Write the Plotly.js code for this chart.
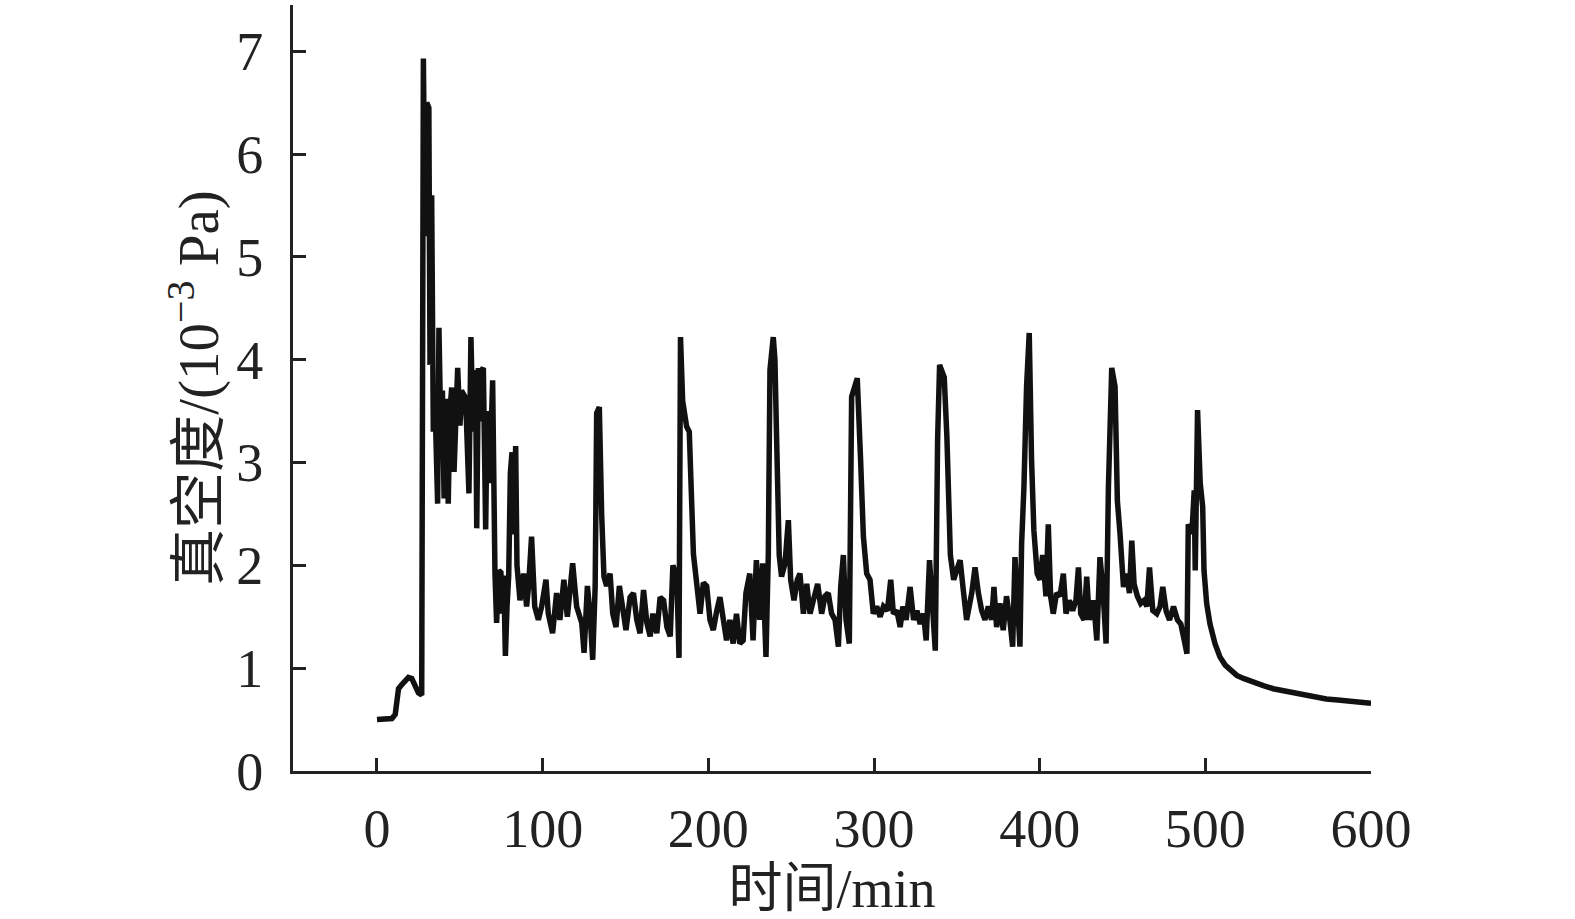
<!DOCTYPE html>
<html>
<head>
<meta charset="utf-8">
<script src="https://cdn.plot.ly/plotly-3.0.1.min.js"></script>
<style>html,body{margin:0;padding:0;background:#fff;}#chart{width:1575px;height:919px;}</style>
</head>
<body>
<div id="chart"></div>
<script>
const timeMin = [
0,3,6,9,11,12,13,15,17,19,21,23,25,27,27.5,28,
29,30,31.3,32,33,34,35,36.6,37.4,38.5,39.5,40.5,42,43,44,45.1,46.5,47.5,48.7,50.1,51,53.1,54,55.5,56.7,58,58.7,59.5,60.2,61.2,62.5,63.2,64.2,65.6,66.5,68,69.8,70.5,71.2,72.2,73.5,74.8,75.6,76.5,77.5,78.5,79.5,80.5,81.5,82.5,83.7,84.5,85.3,86.3,88.5,90.3,91.5,93.3,95.2,
97.4,99.4,102,103.4,106,108.4,110.4,112.8,114.9,118.1,120.5,123.6,125,127,128.6,130.2,131.7,132.6,134.2,135.6,137,138.6,140.7,142.3,144.3,146.3,148.3,150.3,152.8,154.8,156.8,158.8,160.9,162.9,164.9,166.5,168.9,170.9,173,175,177,178.6,181,182.3,183.2,184.5,186.9,188.5,191,193,195,197,199,201,203,205,207,
209,211,213,215,217,219,221,222.7,225,227,229,231,232.8,234.8,236.2,237.2,239.2,240.2,241.2,242.8,244.2,246.3,248.3,249.7,251.7,253.7,255.3,257.4,259.4,261.4,263.4,266,268.4,270.4,272.4,274.4,276.5,278.5,279.9,281.5,283.1,285.1,286.5,288.5,289.9,291.9,293.6,295.6,297.6,299.6,301.6,303.7,305.7,308.1,310.1,311.7,313.8,315.8,317.4,319.4,321.8,323.9,325.9,327.9,329.9,331.5,333.5,335.6,337,338.4,339.6,342.4,344,346.1,348.1,350.5,
352,353.9,355.9,359,361,363,365,367,369,371,372.4,374,376,378,380,382,383.7,385.1,386.5,388.1,389.1,390.5,392.1,393.7,395.1,396.5,398.5,400.2,401.8,403.8,405.2,406.6,408.2,410.2,412.3,414.3,415.9,417.9,419.9,421.9,423.4,424.8,426.8,428.4,430,432.5,434.5,436.4,438.1,440.1,441.5,442.5,443.5,445.5,446.9,448.5,450.6,452.6,454.2,455.6,457,459,461,463.1,464.7,466.3,468.3,470.7,472.7,474.3,476.4,478.4,480.8,483.2,485.2,487.3,488.9,489.7,490.5,491.9,493.3,493.9,495.3,496.9,498.4,499.2,500.8,502.8,505.8,508.8,
512,515,519,523,529,535,541,547,553,559,566,573,580,587,594,600
];
const vacuum = [
0.50,0.50,0.50,0.51,0.55,0.68,0.80,0.84,0.88,0.91,0.90,0.82,0.76,0.74,2.5,6.93,
5.2,6.5,6.45,3.95,5.6,3.3,3.6,2.6,4.31,3.3,3.7,2.65,3.62,2.6,3.5,3.73,2.91,3.6,3.92,3.36,3.7,3.64,3.4,2.7,4.22,3.3,3.53,3.9,2.36,3.92,3.4,3.9,3.92,2.35,3.5,2.8,3.8,2.5,1.93,1.44,1.95,1.93,1.53,1.9,1.12,1.6,1.9,2.9,3.1,2.3,3.16,2.0,1.8,1.66,1.92,1.6,1.8,2.28,1.6,
1.47,1.6,1.86,1.53,1.34,1.73,1.47,1.86,1.5,2.02,1.6,1.44,1.15,1.8,1.53,1.08,1.8,3.48,3.54,2.5,1.89,1.8,1.92,1.53,1.4,1.8,1.53,1.37,1.69,1.73,1.47,1.34,1.76,1.44,1.31,1.53,1.34,1.69,1.66,1.40,1.31,2.0,1.89,1.1,4.22,3.6,3.35,3.3,2.11,1.8,1.53,1.83,1.8,1.47,1.37,1.55,1.69,
1.48,1.27,1.47,1.24,1.53,1.24,1.27,1.73,1.92,1.27,2.05,1.47,2.02,1.11,2.1,3.9,4.22,4.0,3.25,2.1,1.89,2.02,2.44,1.86,1.66,1.86,1.92,1.53,1.82,1.53,1.66,1.82,1.53,1.70,1.73,1.53,1.47,1.21,1.79,2.1,1.47,1.24,3.64,3.74,3.82,3.03,2.28,1.92,1.86,1.53,1.6,1.5,1.6,1.56,1.86,1.53,1.56,1.4,1.6,1.47,1.79,1.47,1.56,1.43,1.53,1.27,2.05,1.53,1.17,3.22,3.95,3.83,3.25,2.1,1.86,1.98,
2.05,1.76,1.47,1.73,1.98,1.73,1.56,1.47,1.6,1.47,1.79,1.4,1.63,1.37,1.7,1.47,1.21,2.08,1.7,1.21,2.21,2.76,3.74,4.26,3.03,2.34,1.92,1.86,2.1,1.70,2.4,1.7,1.53,1.73,1.7,1.92,1.53,1.66,1.56,1.66,1.98,1.53,1.47,1.89,1.47,1.66,1.27,2.08,1.79,1.24,2.76,3.74,3.92,3.74,2.63,2.31,1.79,1.92,1.73,2.24,1.82,1.7,1.63,1.66,1.6,1.98,1.56,1.53,1.6,1.79,1.55,1.47,1.6,1.47,1.43,1.27,1.14,2.4,2.37,2.31,2.73,1.95,3.51,2.8,2.57,1.95,1.63,1.43,1.24,1.11,
1.03,0.98,0.93,0.90,0.86,0.83,0.80,0.78,0.76,0.74,0.72,0.70,0.69,0.68,0.67,0.66
];
const xTickVals = [0,100,200,300,400,500,600];
const yTickVals = [0,1,2,3,4,5,6,7];
const xTitle = '时间/min';
const yTitle = '真空度/(10<sup>−3</sup> Pa)';

const fontFam = 'Liberation Serif, "Times New Roman", "Noto Sans CJK SC", serif';
const trace = {
  x: timeMin, y: vacuum, type: 'scatter', mode: 'lines',
  line: {color: '#111111', width: 5.5, shape: 'linear'},
  hoverinfo: 'skip'
};
const layout = {
  width: 1575, height: 919,
  margin: {l: 293, r: 204, t: 5, b: 148},
  paper_bgcolor: '#fff', plot_bgcolor: '#fff',
  showlegend: false,
  font: {family: fontFam, color: '#222', size: 54},
  xaxis: {
    range: [-50.7, 600], tickvals: xTickVals, ticktext: xTickVals.map(String),
    ticks: 'inside', ticklen: 13, tickwidth: 3, tickcolor: '#222',
    showline: true, linewidth: 3, linecolor: '#222', showgrid: false, zeroline: false,
    tickfont: {family: fontFam, size: 54, color: '#222'},
    ticklabelstandoff: 8,
    title: {text: xTitle, font: {family: fontFam, size: 54, color: '#222'}, standoff: 6},
    automargin: false
  },
  yaxis: {
    range: [0, 7.45], tickvals: yTickVals, ticktext: yTickVals.map(String),
    ticks: 'inside', ticklen: 13, tickwidth: 3, tickcolor: '#222',
    showline: true, linewidth: 3, linecolor: '#222', showgrid: false, zeroline: false,
    tickfont: {family: fontFam, size: 54, color: '#222'},
    ticklabelstandoff: 16,
    title: {text: yTitle, font: {family: fontFam, size: 57, color: '#222'}, standoff: 0},
    automargin: false
  }
};
Plotly.newPlot('chart', [trace], layout, {staticPlot: true, displayModeBar: false});
</script>
</body>
</html>
